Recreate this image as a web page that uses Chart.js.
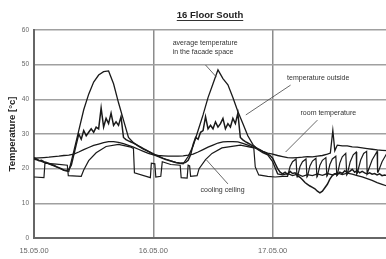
<!DOCTYPE html>
<html>
<head>
<meta charset="utf-8">
<script src="https://cdn.jsdelivr.net/npm/chart.js@4.4.1/dist/chart.umd.min.js"></script>
<style>
    html, body { margin: 0; padding: 0; background: #fff; overflow: hidden; }
    #wrap { width: 386px; height: 259px; overflow: hidden; }
</style>
</head>
<body>
<div id="wrap"><canvas id="floorChart" width="400" height="259"></canvas></div>
<script>
// tick labels (one per day, x axis in hours from 15.05.00 00:00)
const dayLabels = ["15.05.00", "16.05.00", "17.05.00", "18.05.00"];

// average temperature in the facade space, hourly
const facadeHours = [
    0, 1, 2, 3, 4, 5, 6, 7, 8, 9, 10, 11, 12, 13, 14, 15, 16, 17, 18, 19, 20, 21, 22, 23,
    24, 25, 26, 27, 28, 29, 30, 31, 32, 33, 34, 35, 36, 37, 38, 39, 40, 41, 42, 43, 44, 45, 46, 47,
    48, 49, 50, 51, 52, 53, 54, 55, 56, 57, 58, 59, 60, 61, 62, 63, 64, 65, 66, 67, 68, 69, 70, 71
];
const facadeTemp = [
    23.2, 22.4, 21.8, 21.4, 20.8, 20.2, 19.5, 19.2, 25, 31, 37, 41.5, 45, 47, 48, 48.2, 44.5, 39, 34, 29, 27.5, 26.5, 25.6, 25,
    24.3, 23.6, 23, 22.5, 22, 21.6, 21.4, 23.5, 26.5, 31, 35.5, 40.5, 44.5, 48.5, 46, 44.2, 40.5, 36.5, 33, 29.5, 27, 25.5, 24.6, 24,
    22, 18.5, 18.2, 18.6, 18, 18.4, 17.8, 18.3, 18, 18.5, 18.1, 18.6, 18.2, 18.8, 18.3, 18.7, 18.4, 18, 17.6, 17.1, 16.6, 16, 15.5, 15
];

// temperature outside, logged every 30 minutes
const outsideStepH = 0.5;
const outsideTemp = [
    22.8, 22.6, 22.3, 22.4, 22.0, 21.8, 21.5, 21.2, 21.0, 20.6, 20.3, 20.0, 19.6, 19.5, 19.8, 21.0,
    24.0, 27.0, 30.0, 28.5, 31.0, 29.5, 30.5, 31.5, 30.5, 32.0, 31.5, 37.5, 32.0, 34.5, 33.0, 36.0,
    32.5, 33.5, 32.5, 35.0, 29.0, 28.4, 28.0, 27.7, 27.4, 27.0, 26.6, 26.2, 25.8, 25.4, 25.0, 24.6,
    24.2, 23.8, 23.5, 23.2, 22.9, 22.6, 22.4, 22.2, 22.0, 21.8, 21.7, 21.6, 21.6, 21.8, 22.4, 24.0,
    27.0, 29.0, 28.5, 30.5, 31.0, 35.0, 31.5, 32.5, 31.5, 33.5, 32.0, 33.0, 34.5, 31.5, 33.0, 32.0,
    34.5, 33.0, 36.0, 29.0, 28.3, 27.8, 27.4, 27.0, 26.6, 26.2, 25.8, 25.4, 25.0, 24.6, 24.2, 23.8,
    23.0, 21.5, 20.0, 19.0, 18.5, 19.0, 18.3, 19.2, 18.6, 18.8, 18.0, 17.5, 16.8, 16.0, 15.5, 15.0,
    14.6, 14.2, 13.5, 13.0, 13.5, 14.5, 15.5, 17.0, 18.0, 18.5, 18.2, 19.0, 18.6, 19.4, 18.8, 19.2,
    19.8, 19.0, 19.5, 18.8, 19.2, 18.8, 18.5, 18.8, 18.4, 18.6, 18.2, 18.5, 18.0, 18.2, 18.0, 17.8
];

// room temperature
const roomHours = [
    0, 1, 2, 3, 4, 5, 6, 7, 8, 9, 10, 11, 12, 13, 14, 15, 16, 17, 18, 19, 20, 21, 22, 23,
    24, 25, 26, 27, 28, 29, 30, 31, 32, 33, 34, 35, 36, 37, 38, 39, 40, 41, 42, 43, 44, 45, 46, 47,
    48, 49, 50, 51, 52, 53, 54, 55, 56, 57, 58, 59, 59.6, 60.1, 60.5, 61, 62, 63, 64, 65, 66, 67, 68, 69, 70, 71
];
const roomTemp = [
    23.0, 23.1, 23.2, 23.3, 23.5, 23.6, 23.8, 23.9, 24.2, 24.8, 25.5, 26.1, 26.7, 27.1, 27.5, 27.8, 27.8, 27.6, 27.2, 26.7, 26.2, 25.6, 25.0, 24.4,
    24.0, 23.8, 23.7, 23.6, 23.6, 23.6, 23.7, 23.9, 24.2, 24.8, 25.5, 26.2, 26.8, 27.4, 27.7, 27.8, 27.8, 27.7, 27.3, 26.8, 26.2, 25.6, 25.0, 24.5,
    24.2, 23.8, 23.5, 23.2, 23.1, 23.2, 23.3, 23.5, 23.4, 23.6, 23.8, 24.2, 24.5, 31.0, 25.2, 26.8, 26.6, 26.6, 26.3, 26.2, 26.0, 25.8, 25.6, 25.4, 25.3, 25.2
];

// cooling ceiling (switching on/off, irregular samples)
const ceilingHours = [
    0, 2, 2.2, 4.5, 6.7, 6.9, 9.5, 10, 11, 12.5, 14.5, 17, 19.5, 20, 20.2, 23.4, 23.6, 24.3, 24.5, 25.5,
    25.8, 27.5, 29.4, 29.6, 30.8, 31, 31.3, 31.5, 32.8, 33.2, 34.5, 35.8, 37.8, 41.5, 44.2, 44.5, 45.2, 47, 48.5, 50,
    51, 51.5, 52, 52.7, 52.9, 53, 53.5, 54, 54.7, 54.9, 55, 55.5, 56, 56.7, 56.9, 57, 57.5, 58, 58.7, 58.9,
    59, 59.5, 60, 60.7, 60.9, 61, 61.5, 62, 62.7, 62.9, 63, 63.6, 64.2, 64.8, 64.9, 65, 65.7, 66.3, 66.9, 67,
    68, 69, 69.1, 69.2, 70, 71
];
const ceilingTemp = [
    17.6, 17.4, 21.6, 21.3, 21, 18, 17.8, 19.6, 22.3, 24.6, 26.4, 27, 26.2, 25.8, 18.8, 17.4, 21.6, 21.4, 17.6, 17.8,
    22, 21.2, 21, 17.4, 17.3, 21, 20.8, 17.8, 18, 20, 22.6, 24.4, 26, 26.8, 26, 20.5, 18.2, 17.8, 17.6, 17.8,
    17.8, 20.6, 22, 22.8, 17.6, 17.8, 20.6, 22, 22.8, 17.6, 17.8, 20.8, 22.2, 23, 17.6, 17.8, 21, 22.4, 23.2, 17.8,
    18, 21.2, 22.8, 23.6, 18, 18.2, 21.6, 23.4, 24.4, 18.2, 18.4, 22, 24, 24.8, 18.4, 18.6, 22.5, 24.4, 25, 18.6,
    22.5, 25, 19, 19, 22, 24.5
];

// annotation texts, anchored in data units (hours, °C)
const noteTexts = [["average temperature", "in the facade space"], ["temperature outside"], ["room temperature"], ["cooling ceiling"]];
const noteHours = [27.9, 50.9, 53.6, 33.5];
const noteTemps = [56.2, 46.1, 36.0, 13.8];
const pointerFrom = [[34.5, 49.9], [51.6, 44.1], [57.0, 34.0], [39.0, 15.6]];
const pointerTo = [[36.7, 46.4], [42.6, 35.5], [50.6, 24.8], [34.7, 22.5]];

function toPoints(hours, values) {
    return hours.map((h, i) => ({ x: h, y: values[i] }));
}

function lineSet(label, data, width) {
    return {
        label: label,
        data: data,
        borderColor: "#1a1a1a",
        backgroundColor: "#1a1a1a",
        borderWidth: width,
        pointRadius: 0,
        tension: 0,
        fill: false,
    };
}

const notesPlugin = {
    id: "notes",
    afterDraw(chart) {
        const { ctx, chartArea, scales } = chart;
        const x = scales.x;
        const y = scales.y;
        ctx.save();

        // chart title, underlined
        ctx.fillStyle = "#222";
        ctx.font = "bold 9.5px 'Liberation Sans', Arial, sans-serif";
        ctx.textAlign = "center";
        ctx.textBaseline = "middle";
        const title = "16 Floor South";
        ctx.fillText(title, 210, 15);
        const tw = ctx.measureText(title).width;
        ctx.strokeStyle = "#333";
        ctx.lineWidth = 1;
        ctx.beginPath();
        ctx.moveTo(210 - tw / 2, 20.5);
        ctx.lineTo(210 + tw / 2, 20.5);
        ctx.stroke();

        // y axis title
        ctx.save();
        ctx.translate(12, (chartArea.top + chartArea.bottom) / 2);
        ctx.rotate(-Math.PI / 2);
        ctx.font = "bold 9.5px 'Liberation Sans', Arial, sans-serif";
        ctx.fillText("Temperature [°c]", 0, 0);
        ctx.restore();

        // annotations with pointer lines
        ctx.font = "7px 'Liberation Sans', Arial, sans-serif";
        ctx.textAlign = "left";
        ctx.fillStyle = "#333";
        noteTexts.forEach((lines, i) => {
            const px = x.getPixelForValue(noteHours[i]);
            const py = y.getPixelForValue(noteTemps[i]);
            lines.forEach((line, j) => ctx.fillText(line, px, py + j * 9));
        });
        ctx.strokeStyle = "#444";
        ctx.lineWidth = 0.8;
        pointerFrom.forEach((p, i) => {
            ctx.beginPath();
            ctx.moveTo(x.getPixelForValue(p[0]), y.getPixelForValue(p[1]));
            ctx.lineTo(x.getPixelForValue(pointerTo[i][0]), y.getPixelForValue(pointerTo[i][1]));
            ctx.stroke();
        });
        ctx.restore();
    },
};

const outsideHours = outsideTemp.map((_, i) => i * outsideStepH);

const config = {
    type: "line",
    data: {
        datasets: [
            lineSet("average temperature in the facade space", toPoints(facadeHours, facadeTemp), 1.3),
            lineSet("temperature outside", toPoints(outsideHours, outsideTemp), 1.5),
            lineSet("room temperature", toPoints(roomHours, roomTemp), 1.3),
            lineSet("cooling ceiling", toPoints(ceilingHours, ceilingTemp), 1.2),
        ],
    },
    options: {
        responsive: false,
        animation: false,
        layout: { padding: { top: 30, right: 4, left: 0, bottom: 0 } },
        plugins: {
            legend: { display: false },
            tooltip: { enabled: false },
        },
        scales: {
            x: {
                type: "linear",
                min: 0,
                max: 72,
                ticks: {
                    stepSize: 24,
                    padding: 8,
                    color: "#666",
                    font: { size: 7.5, family: "'Liberation Sans', Arial, sans-serif" },
                    maxRotation: 0,
                    callback: (v) => (v < 72 ? dayLabels[v / 24] : ""),
                },
                grid: { color: "#8c8c8c", lineWidth: 1.5, drawTicks: false },
                border: { display: true, color: "#666", width: 2 },
                afterFit: (scale) => { scale.height = 21; },
            },
            y: {
                min: 0,
                max: 60,
                ticks: {
                    stepSize: 10,
                    padding: 5,
                    color: "#666",
                    font: { size: 6.5, family: "'Liberation Sans', Arial, sans-serif" },
                },
                grid: { color: "#a0a0a0", lineWidth: 1.5, drawTicks: false },
                border: { display: true, color: "#666", width: 2 },
                afterFit: (scale) => { scale.width = 34; },
            },
        },
    },
    plugins: [notesPlugin],
};

new Chart(document.getElementById("floorChart").getContext("2d"), config);
</script>
</body>
</html>
